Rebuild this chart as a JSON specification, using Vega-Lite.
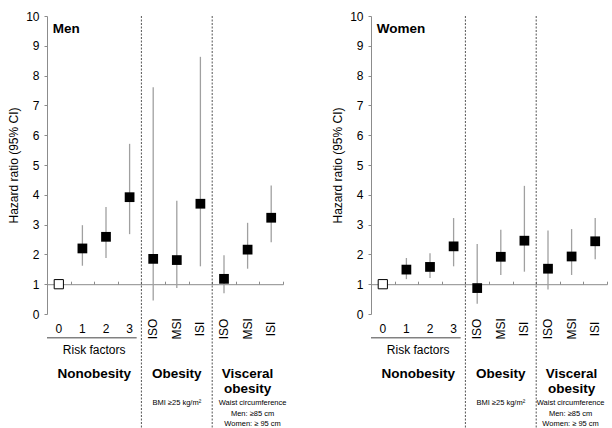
{
  "$schema": "https://vega.github.io/schema/vega-lite/v6.json",
  "padding": {"left": 7, "top": 10, "right": 0, "bottom": 0},
  "background": "white",
  "config": {
    "font": "Liberation Sans",
    "view": {"stroke": null},
    "axis": {"labelFont": "Liberation Sans", "titleFont": "Liberation Sans"},
    "axisY": {"labelOverlap": false, "grid": false, "tickSize": 3, "labelPadding": 5, "labelFontSize": 12, "titleFontSize": 12, "titleFontWeight": "normal", "titlePadding": 5, "domainColor": "#8c8c8c", "tickColor": "#8c8c8c", "labelColor": "black", "titleColor": "black"}
  },
  "datasets": {
    "men": [
      {"cat": "0", "label": "0", "hr": 1, "lo": null, "hi": null},
      {"cat": "1", "label": "1", "hr": 2.2, "lo": 1.62, "hi": 2.98},
      {"cat": "2", "label": "2", "hr": 2.59, "lo": 1.88, "hi": 3.59},
      {"cat": "3", "label": "3", "hr": 3.92, "lo": 2.68, "hi": 5.71},
      {"cat": "ISO-O", "label": "ISO", "hr": 1.85, "lo": 0.45, "hi": 7.61},
      {"cat": "MSI-O", "label": "MSI", "hr": 1.81, "lo": 0.87, "hi": 3.8},
      {"cat": "ISI-O", "label": "ISI", "hr": 3.7, "lo": 1.6, "hi": 8.63},
      {"cat": "ISO-V", "label": "ISO", "hr": 1.18, "lo": 0.7, "hi": 1.97},
      {"cat": "MSI-V", "label": "MSI", "hr": 2.16, "lo": 1.52, "hi": 3.06},
      {"cat": "ISI-V", "label": "ISI", "hr": 3.23, "lo": 2.41, "hi": 4.31}
    ],
    "women": [
      {"cat": "0", "label": "0", "hr": 1, "lo": null, "hi": null},
      {"cat": "1", "label": "1", "hr": 1.49, "lo": 1.17, "hi": 1.88},
      {"cat": "2", "label": "2", "hr": 1.58, "lo": 1.21, "hi": 2.04},
      {"cat": "3", "label": "3", "hr": 2.27, "lo": 1.6, "hi": 3.22},
      {"cat": "ISO-O", "label": "ISO", "hr": 0.87, "lo": 0.34, "hi": 2.35},
      {"cat": "MSI-O", "label": "MSI", "hr": 1.92, "lo": 1.31, "hi": 2.83},
      {"cat": "ISI-O", "label": "ISI", "hr": 2.46, "lo": 1.42, "hi": 4.3},
      {"cat": "ISO-V", "label": "ISO", "hr": 1.52, "lo": 0.82, "hi": 2.8},
      {"cat": "MSI-V", "label": "MSI", "hr": 1.93, "lo": 1.31, "hi": 2.85},
      {"cat": "ISI-V", "label": "ISI", "hr": 2.44, "lo": 1.84, "hi": 3.22}
    ],
    "dividers": [{"cat": "ISO-O"}, {"cat": "ISO-V"}]
  },
  "bounds": "flush",
  "spacing": 88,
  "hconcat": [
    {
      "width": 236,
      "height": 298,
      "data": {"name": "men"},
      "encoding": {
        "x": {
          "field": "cat", "type": "nominal",
          "scale": {"type": "band", "domain": ["0","1","2","3","ISO-O","MSI-O","ISI-O","ISO-V","MSI-V","ISI-V"], "paddingInner": 0, "paddingOuter": 0},
          "axis": {"title": null, "labels": false, "offset": -29.8, "tickBand": "extent", "tickSize": -3, "domainColor": "#8c8c8c", "tickColor": "#8c8c8c"}
        }
      },
      "layer": [
        {
          "transform": [{"filter": "datum.lo != null"}],
          "mark": {"type": "rule", "color": "#a0a0a0", "strokeWidth": 1.3},
          "encoding": {
            "y": {"field": "lo", "type": "quantitative", "scale": {"domain": [0, 10], "nice": false, "zero": false},
              "axis": {"title": "Hazard ratio (95% CI)", "values": [0,1,2,3,4,5,6,7,8,9,10], "tickCount": 11, "labelOverlap": false}},
            "y2": {"field": "hi"}
          }
        },
        {
          "transform": [{"filter": "datum.cat !== '0'"}],
          "mark": {"type": "point", "shape": "square", "filled": true, "color": "black", "size": 95, "opacity": 1},
          "encoding": {"y": {"field": "hr", "type": "quantitative", "axis": {"title": "Hazard ratio (95% CI)", "values": [0,1,2,3,4,5,6,7,8,9,10], "tickCount": 11, "labelOverlap": false}}}
        },
        {
          "transform": [{"filter": "datum.cat === '0'"}],
          "mark": {"type": "point", "shape": "square", "filled": true, "fill": "white", "stroke": "black", "strokeWidth": 1, "size": 85, "opacity": 1},
          "encoding": {"y": {"field": "hr", "type": "quantitative", "axis": {"title": "Hazard ratio (95% CI)", "values": [0,1,2,3,4,5,6,7,8,9,10], "tickCount": 11, "labelOverlap": false}}}
        },
        {
          "transform": [{"filter": "indexof(['0','1','2','3'], datum.cat) >= 0"}],
          "mark": {"type": "text", "fontSize": 12, "baseline": "middle", "align": "center", "color": "black"},
          "encoding": {"y": {"datum": -0.5, "axis": {"title": "Hazard ratio (95% CI)", "values": [0,1,2,3,4,5,6,7,8,9,10], "tickCount": 11, "labelOverlap": false}}, "text": {"field": "label"}}
        },
        {
          "transform": [{"filter": "indexof(['0','1','2','3'], datum.cat) < 0"}],
          "mark": {"type": "text", "fontSize": 12, "baseline": "middle", "align": "center", "angle": 270, "color": "black"},
          "encoding": {"y": {"datum": -0.5, "axis": {"title": "Hazard ratio (95% CI)", "values": [0,1,2,3,4,5,6,7,8,9,10], "tickCount": 11, "labelOverlap": false}}, "text": {"field": "label"}}
        },
        {
          "data": {"name": "dividers"},
          "mark": {"type": "rule", "color": "#555555", "strokeWidth": 1, "strokeDash": [2, 1.5]},
          "encoding": {"x": {"field": "cat", "type": "nominal", "bandPosition": 0}, "y": {"datum": 10, "axis": {"title": "Hazard ratio (95% CI)", "values": [0,1,2,3,4,5,6,7,8,9,10], "tickCount": 11, "labelOverlap": false}}, "y2": {"datum": -3.85}}
        },
        {
          "data": {"values": [{}]},
          "mark": {"type": "rule", "color": "#444444", "strokeWidth": 1},
          "encoding": {"x": {"datum": "0", "bandPosition": 0}, "x2": {"datum": "3", "bandPosition": 0.8}, "y": {"datum": -0.8, "axis": {"title": "Hazard ratio (95% CI)", "values": [0,1,2,3,4,5,6,7,8,9,10], "tickCount": 11, "labelOverlap": false}}}
        },
        {
          "data": {"values": [{}]},
          "mark": {"type": "text", "fontSize": 12, "baseline": "middle", "align": "center", "color": "black", "text": "Risk factors"},
          "encoding": {"x": {"datum": "1", "bandPosition": 1}, "y": {"datum": -1.22, "axis": {"title": "Hazard ratio (95% CI)", "values": [0,1,2,3,4,5,6,7,8,9,10], "tickCount": 11, "labelOverlap": false}}}
        },
        {
          "data": {"values": [{}]},
          "mark": {"type": "text", "fontSize": 13.5, "fontWeight": "bold", "baseline": "middle", "align": "center", "color": "black", "text": "Nonobesity"},
          "encoding": {"x": {"datum": "1", "bandPosition": 1}, "y": {"datum": -2.0, "axis": {"title": "Hazard ratio (95% CI)", "values": [0,1,2,3,4,5,6,7,8,9,10], "tickCount": 11, "labelOverlap": false}}}
        },
        {
          "data": {"values": [{}]},
          "mark": {"type": "text", "fontSize": 13.5, "fontWeight": "bold", "baseline": "middle", "align": "center", "color": "black", "text": "Obesity"},
          "encoding": {"x": {"datum": "MSI-O"}, "y": {"datum": -2.0, "axis": {"title": "Hazard ratio (95% CI)", "values": [0,1,2,3,4,5,6,7,8,9,10], "tickCount": 11, "labelOverlap": false}}}
        },
        {
          "data": {"values": [{}]},
          "mark": {"type": "text", "fontSize": 13.5, "fontWeight": "bold", "baseline": "middle", "align": "center", "lineHeight": 15.3, "color": "black", "text": ["Visceral", "obesity"]},
          "encoding": {"x": {"datum": "MSI-V"}, "y": {"datum": -2.0, "axis": {"title": "Hazard ratio (95% CI)", "values": [0,1,2,3,4,5,6,7,8,9,10], "tickCount": 11, "labelOverlap": false}}}
        },
        {
          "data": {"values": [{}]},
          "mark": {"type": "text", "fontSize": 7.5, "baseline": "middle", "align": "center", "color": "black", "text": "BMI ≥25 kg/m²"},
          "encoding": {"x": {"datum": "MSI-O"}, "y": {"datum": -3.0, "axis": {"title": "Hazard ratio (95% CI)", "values": [0,1,2,3,4,5,6,7,8,9,10], "tickCount": 11, "labelOverlap": false}}}
        },
        {
          "data": {"values": [{}]},
          "mark": {"type": "text", "fontSize": 7.5, "baseline": "middle", "align": "center", "lineHeight": 10.2, "dx": 5, "color": "black", "text": ["Waist circumference", "Men: ≥85 cm", "Women: ≥ 95 cm"]},
          "encoding": {"x": {"datum": "MSI-V"}, "y": {"datum": -3.0, "axis": {"title": "Hazard ratio (95% CI)", "values": [0,1,2,3,4,5,6,7,8,9,10], "tickCount": 11, "labelOverlap": false}}}
        },
        {
          "data": {"values": [{}]},
          "mark": {"type": "text", "fontSize": 13.5, "fontWeight": "bold", "baseline": "middle", "align": "left", "dx": -6, "color": "black", "text": "Men"},
          "encoding": {"x": {"datum": "0"}, "y": {"datum": 9.56, "axis": {"title": "Hazard ratio (95% CI)", "values": [0,1,2,3,4,5,6,7,8,9,10], "tickCount": 11, "labelOverlap": false}}}
        }
      ]
    },
    {
      "width": 236,
      "height": 298,
      "data": {"name": "women"},
      "encoding": {
        "x": {
          "field": "cat", "type": "nominal",
          "scale": {"type": "band", "domain": ["0","1","2","3","ISO-O","MSI-O","ISI-O","ISO-V","MSI-V","ISI-V"], "paddingInner": 0, "paddingOuter": 0},
          "axis": {"title": null, "labels": false, "offset": -29.8, "tickBand": "extent", "tickSize": -3, "domainColor": "#8c8c8c", "tickColor": "#8c8c8c"}
        }
      },
      "layer": [
        {
          "transform": [{"filter": "datum.lo != null"}],
          "mark": {"type": "rule", "color": "#a0a0a0", "strokeWidth": 1.3},
          "encoding": {
            "y": {"field": "lo", "type": "quantitative", "scale": {"domain": [0, 10], "nice": false, "zero": false},
              "axis": {"title": "Hazard ratio (95% CI)", "values": [0,1,2,3,4,5,6,7,8,9,10], "tickCount": 11, "labelOverlap": false}},
            "y2": {"field": "hi"}
          }
        },
        {
          "transform": [{"filter": "datum.cat !== '0'"}],
          "mark": {"type": "point", "shape": "square", "filled": true, "color": "black", "size": 95, "opacity": 1},
          "encoding": {"y": {"field": "hr", "type": "quantitative", "axis": {"title": "Hazard ratio (95% CI)", "values": [0,1,2,3,4,5,6,7,8,9,10], "tickCount": 11, "labelOverlap": false}}}
        },
        {
          "transform": [{"filter": "datum.cat === '0'"}],
          "mark": {"type": "point", "shape": "square", "filled": true, "fill": "white", "stroke": "black", "strokeWidth": 1, "size": 85, "opacity": 1},
          "encoding": {"y": {"field": "hr", "type": "quantitative", "axis": {"title": "Hazard ratio (95% CI)", "values": [0,1,2,3,4,5,6,7,8,9,10], "tickCount": 11, "labelOverlap": false}}}
        },
        {
          "transform": [{"filter": "indexof(['0','1','2','3'], datum.cat) >= 0"}],
          "mark": {"type": "text", "fontSize": 12, "baseline": "middle", "align": "center", "color": "black"},
          "encoding": {"y": {"datum": -0.5, "axis": {"title": "Hazard ratio (95% CI)", "values": [0,1,2,3,4,5,6,7,8,9,10], "tickCount": 11, "labelOverlap": false}}, "text": {"field": "label"}}
        },
        {
          "transform": [{"filter": "indexof(['0','1','2','3'], datum.cat) < 0"}],
          "mark": {"type": "text", "fontSize": 12, "baseline": "middle", "align": "center", "angle": 270, "color": "black"},
          "encoding": {"y": {"datum": -0.5, "axis": {"title": "Hazard ratio (95% CI)", "values": [0,1,2,3,4,5,6,7,8,9,10], "tickCount": 11, "labelOverlap": false}}, "text": {"field": "label"}}
        },
        {
          "data": {"name": "dividers"},
          "mark": {"type": "rule", "color": "#555555", "strokeWidth": 1, "strokeDash": [2, 1.5]},
          "encoding": {"x": {"field": "cat", "type": "nominal", "bandPosition": 0}, "y": {"datum": 10, "axis": {"title": "Hazard ratio (95% CI)", "values": [0,1,2,3,4,5,6,7,8,9,10], "tickCount": 11, "labelOverlap": false}}, "y2": {"datum": -3.85}}
        },
        {
          "data": {"values": [{}]},
          "mark": {"type": "rule", "color": "#444444", "strokeWidth": 1},
          "encoding": {"x": {"datum": "0", "bandPosition": 0}, "x2": {"datum": "3", "bandPosition": 0.8}, "y": {"datum": -0.8, "axis": {"title": "Hazard ratio (95% CI)", "values": [0,1,2,3,4,5,6,7,8,9,10], "tickCount": 11, "labelOverlap": false}}}
        },
        {
          "data": {"values": [{}]},
          "mark": {"type": "text", "fontSize": 12, "baseline": "middle", "align": "center", "color": "black", "text": "Risk factors"},
          "encoding": {"x": {"datum": "1", "bandPosition": 1}, "y": {"datum": -1.22, "axis": {"title": "Hazard ratio (95% CI)", "values": [0,1,2,3,4,5,6,7,8,9,10], "tickCount": 11, "labelOverlap": false}}}
        },
        {
          "data": {"values": [{}]},
          "mark": {"type": "text", "fontSize": 13.5, "fontWeight": "bold", "baseline": "middle", "align": "center", "color": "black", "text": "Nonobesity"},
          "encoding": {"x": {"datum": "1", "bandPosition": 1}, "y": {"datum": -2.0, "axis": {"title": "Hazard ratio (95% CI)", "values": [0,1,2,3,4,5,6,7,8,9,10], "tickCount": 11, "labelOverlap": false}}}
        },
        {
          "data": {"values": [{}]},
          "mark": {"type": "text", "fontSize": 13.5, "fontWeight": "bold", "baseline": "middle", "align": "center", "color": "black", "text": "Obesity"},
          "encoding": {"x": {"datum": "MSI-O"}, "y": {"datum": -2.0, "axis": {"title": "Hazard ratio (95% CI)", "values": [0,1,2,3,4,5,6,7,8,9,10], "tickCount": 11, "labelOverlap": false}}}
        },
        {
          "data": {"values": [{}]},
          "mark": {"type": "text", "fontSize": 13.5, "fontWeight": "bold", "baseline": "middle", "align": "center", "lineHeight": 15.3, "color": "black", "text": ["Visceral", "obesity"]},
          "encoding": {"x": {"datum": "MSI-V"}, "y": {"datum": -2.0, "axis": {"title": "Hazard ratio (95% CI)", "values": [0,1,2,3,4,5,6,7,8,9,10], "tickCount": 11, "labelOverlap": false}}}
        },
        {
          "data": {"values": [{}]},
          "mark": {"type": "text", "fontSize": 7.5, "baseline": "middle", "align": "center", "color": "black", "text": "BMI ≥25 kg/m²"},
          "encoding": {"x": {"datum": "MSI-O"}, "y": {"datum": -3.0, "axis": {"title": "Hazard ratio (95% CI)", "values": [0,1,2,3,4,5,6,7,8,9,10], "tickCount": 11, "labelOverlap": false}}}
        },
        {
          "data": {"values": [{}]},
          "mark": {"type": "text", "fontSize": 7.5, "baseline": "middle", "align": "center", "lineHeight": 10.2, "dx": -1, "color": "black", "text": ["Waist circumference", "Men: ≥85 cm", "Women: ≥ 95 cm"]},
          "encoding": {"x": {"datum": "MSI-V"}, "y": {"datum": -3.0, "axis": {"title": "Hazard ratio (95% CI)", "values": [0,1,2,3,4,5,6,7,8,9,10], "tickCount": 11, "labelOverlap": false}}}
        },
        {
          "data": {"values": [{}]},
          "mark": {"type": "text", "fontSize": 13.5, "fontWeight": "bold", "baseline": "middle", "align": "left", "dx": -6, "color": "black", "text": "Women"},
          "encoding": {"x": {"datum": "0"}, "y": {"datum": 9.56, "axis": {"title": "Hazard ratio (95% CI)", "values": [0,1,2,3,4,5,6,7,8,9,10], "tickCount": 11, "labelOverlap": false}}}
        }
      ]
    }
  ]
}
